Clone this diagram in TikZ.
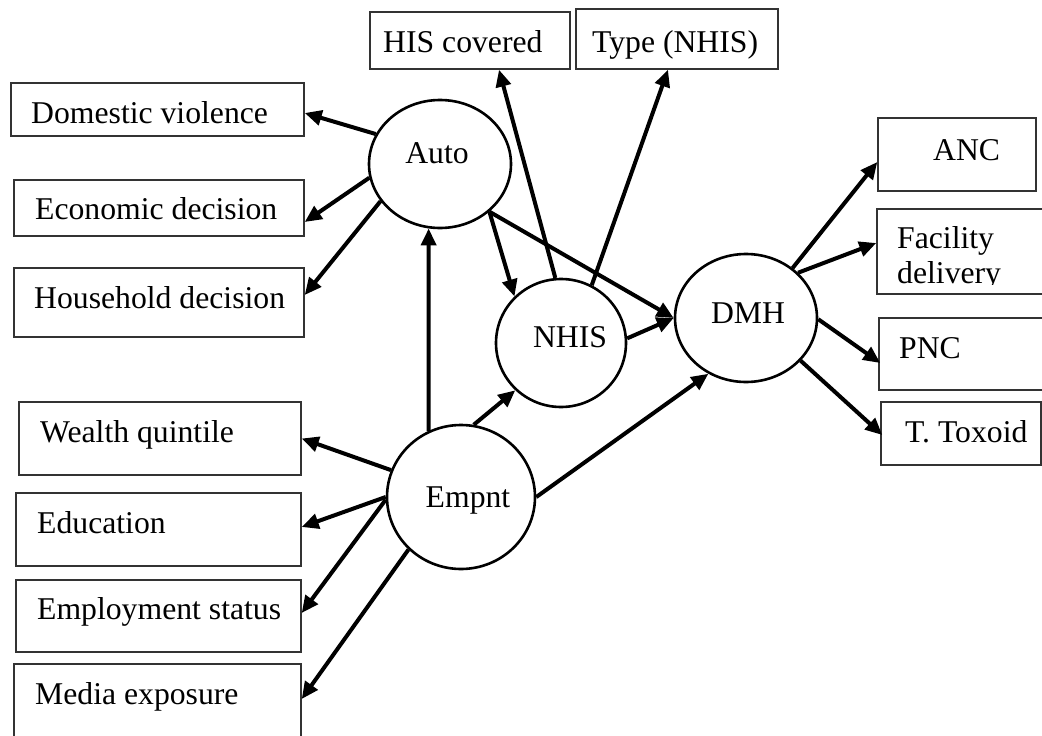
\documentclass[tikz,border=0pt]{standalone}
\usepackage{fontspec}
\setmainfont{Liberation Serif}
\usetikzlibrary{shapes.geometric,arrows.meta,calc}
\begin{document}
\begin{tikzpicture}[x=1pt,y=-1pt,
  every node/.style={font=\fontsize{31.7}{35}\selectfont},
  boxnode/.style={draw=black!80,line width=1.4pt,rectangle,inner sep=0pt},
  latent/.style={draw=black,line width=2.6pt,ellipse,inner sep=0pt},
  txt/.style={anchor=base west,inner sep=0pt},
  ctxt/.style={anchor=base,inner sep=0pt},
  path/.style={line width=4pt,-{Triangle[length=17pt,width=15pt]}}]
\useasboundingbox (0,0) rectangle (1042,736);

% indicator boxes
\node[boxnode,minimum width=200pt,minimum height=57pt] (his) at (470,40.5) {};
\node[boxnode,minimum width=202pt,minimum height=60pt] (typ) at (677,39) {};
\node[boxnode,minimum width=293pt,minimum height=53pt] (dv) at (157.5,109.5) {};
\node[boxnode,minimum width=290pt,minimum height=56pt] (eco) at (159,208) {};
\node[boxnode,minimum width=290pt,minimum height=69pt] (hou) at (159,302.5) {};
\node[boxnode,minimum width=158pt,minimum height=73pt] (anc) at (957,154.5) {};
\node[boxnode,minimum width=185pt,minimum height=85pt] (fac) at (969.5,251.5) {};
\node[boxnode,minimum width=183pt,minimum height=72pt] (pnc) at (970.5,354) {};
\node[boxnode,minimum width=160pt,minimum height=63pt] (tt) at (961,433.5) {};
\node[boxnode,minimum width=282pt,minimum height=73pt] (wq) at (160,438.5) {};
\node[boxnode,minimum width=285pt,minimum height=73pt] (edu) at (158.5,529.5) {};
\node[boxnode,minimum width=285pt,minimum height=72pt] (ems) at (158.5,616) {};
\node[boxnode,minimum width=287pt,minimum height=100pt] (med) at (157.5,714) {};

% box texts
\node[txt] (hist) at (383,52) {HIS covered};
\node[txt] (typt) at (592,52) {Type (NHIS)};
\node[txt] (dvt) at (31,123) {Domestic violence};
\node[txt] (ecot) at (35,219) {Economic decision};
\node[txt] (hout) at (34,308) {Household decision};
\node[txt] (anct) at (933,160) {ANC};
\begin{scope}
  \clip (870,205) rectangle (1050,284);
  \node[txt] (fact1) at (897,248) {Facility};
  \node[txt] (fact2) at (897,283) {delivery};
\end{scope}
\node[txt] (pnct) at (899,358) {PNC};
\node[txt] (ttt) at (905,442) {T. Toxoid};
\node[txt] (wqt) at (40,442) {Wealth quintile};
\node[txt] (edut) at (37,533) {Education};
\node[txt] (emst) at (37,619) {Employment status};
\node[txt] (medt) at (35,704) {Media exposure};

% latent variables
\node[latent,minimum width=142pt,minimum height=128pt] (auto) at (440,164) {};
\node[latent,minimum width=130pt,minimum height=128pt] (nhis) at (561,343) {};
\node[latent,minimum width=142pt,minimum height=128pt] (dmh) at (746,318) {};
\node[latent,minimum width=148pt,minimum height=144pt] (emp) at (461,497) {};
\node[ctxt] (autot) at (437,163) {Auto};
\node[ctxt] (nhist) at (570,347) {NHIS};
\node[ctxt] (dmht) at (748,323) {DMH};
\node[ctxt] (empt) at (468,507) {Empnt};

% paths from Auto
\draw[path] (auto.155) -- ($(dv.east)+(0,3.5)$);
\draw[path] (auto.191) -- ($(eco.east)+(0,14)$);
\draw[path] (auto.212) -- ($(hou.east)+(0,-7.5)$);
\draw[path] (auto.316) -- (nhis.135);
\draw[path] (auto.316) -- (dmh.180);

% paths from NHIS
\draw[path] (nhis.95) -- ($(his.south)+(29,0)$);
\draw[path] (nhis.62) -- ($(typ.south)+(-9,0)$);
\draw[path] (nhis.4) -- (dmh.180);

% paths from Empnt
\draw[path] (emp.116) -- (auto.260);
\draw[path] (emp.80) -- (nhis.226);
\draw[path] (emp.0) -- (dmh.236);
\draw[path] (emp.159) -- (wq.east);
\draw[path] (emp.180) -- ($(edu.east)+(0,-2.5)$);
\draw[path] (emp.182) -- ($(ems.east)+(0,-3)$);
\draw[path] (emp.225) -- ($(med.east)+(0,-15)$);

% paths from DMH
\draw[path] (dmh.47) -- ($(anc.west)+(0,7.5)$);
\draw[path] (dmh.41) -- ($(fac.west)+(0,-8.5)$);
\draw[path] (dmh.359) -- ($(pnc.west)+(2,9)$);
\draw[path] (dmh.322) -- ($(tt.west)+(2,1.5)$);
\end{tikzpicture}
\end{document}
